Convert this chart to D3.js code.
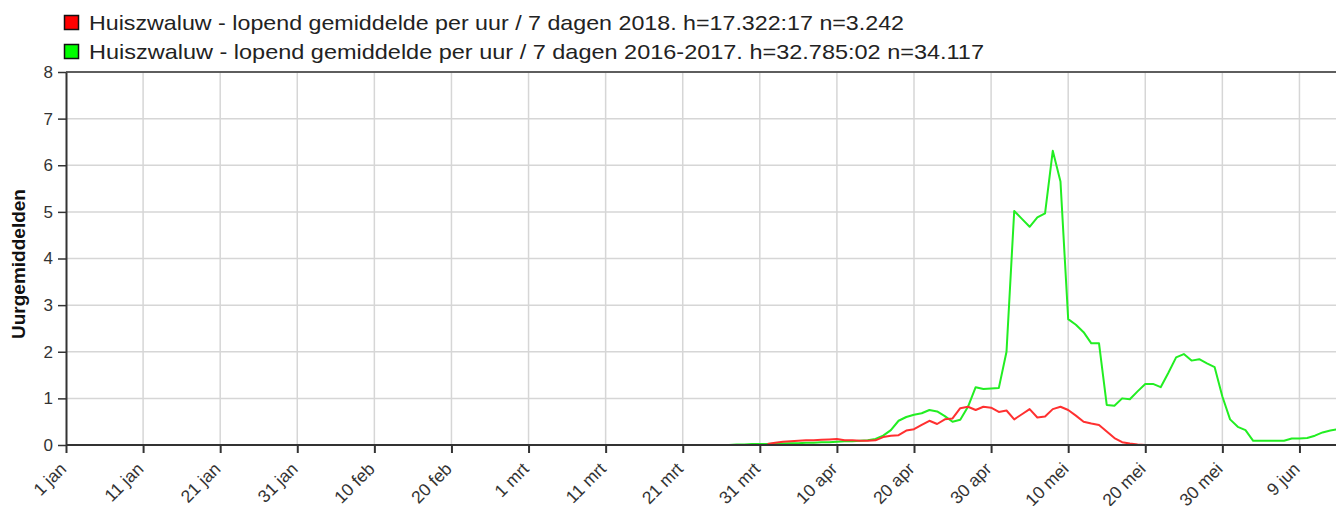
<!DOCTYPE html>
<html>
<head>
<meta charset="utf-8">
<script src="https://cdn.jsdelivr.net/npm/d3@7"></script>
<style>
  body { margin: 0; background: #fff; }
  svg { display: block; font-family: "Liberation Sans", Arial, sans-serif; }
</style>
</head>
<body>
<svg id="chart"></svg>
<script>
const width = 1336
const height = 506

// Data: one value per day, day 0 = 1 jan (leap-year calendar)
const tickDays = [0, 10, 20, 30, 40, 50, 60, 70, 80, 90, 100, 110, 120, 130, 140, 150, 160]
const tickLabels = ["1 jan", "11 jan", "21 jan", "31 jan", "10 feb", "20 feb", "1 mrt", "11 mrt",
    "21 mrt", "31 mrt", "10 apr", "20 apr", "30 apr", "10 mei", "20 mei", "30 mei", "9 jun"]

const series2018Label = "Huiszwaluw - lopend gemiddelde per uur / 7 dagen 2018. h=17.322:17 n=3.242"
const series2018Start = 91
const series2018 = [0.02, 0.05, 0.07, 0.08, 0.09, 0.1, 0.1, 0.11, 0.12, 0.13,
    0.1, 0.1, 0.09, 0.09, 0.1, 0.17, 0.2, 0.21, 0.31, 0.34,
    0.43, 0.52, 0.45, 0.55, 0.57, 0.79, 0.82, 0.75, 0.82, 0.8,
    0.71, 0.74, 0.55, 0.66, 0.77, 0.59, 0.61, 0.77, 0.82, 0.75,
    0.63, 0.5, 0.46, 0.43, 0.29, 0.15, 0.06, 0.03, 0.01, 0]

const series1617Label = "Huiszwaluw - lopend gemiddelde per uur / 7 dagen 2016-2017. h=32.785:02 n=34.117"
const series1617Start = 86
const series1617 = [0, 0.01, 0.01, 0.02, 0.02, 0.02, 0.03, 0.03, 0.04, 0.04,
    0.05, 0.05, 0.06, 0.06, 0.07, 0.08, 0.08, 0.09, 0.1, 0.13,
    0.2, 0.32, 0.52, 0.6, 0.65, 0.68, 0.75, 0.72, 0.62, 0.5,
    0.54, 0.82, 1.24, 1.2, 1.21, 1.22, 2.0, 5.02, 4.85, 4.68,
    4.88, 4.97, 6.31, 5.65, 2.7, 2.58, 2.42, 2.18, 2.18, 0.86,
    0.84, 1.0, 0.98, 1.15, 1.31, 1.31, 1.24, 1.55, 1.88, 1.95,
    1.81, 1.84, 1.75, 1.67, 1.04, 0.55, 0.39, 0.32, 0.09, 0.09,
    0.09, 0.09, 0.09, 0.14, 0.14, 0.15, 0.2, 0.27, 0.31, 0.34]

const yTicks = [0, 1, 2, 3, 4, 5, 6, 7, 8]

// Layout
const plotLeft = 66
const plotTop = 72
const plotBottom = 445
const plotRight = 1338

const svg = d3.select("#chart")
    .attr("width", width)
    .attr("height", height)

const x = d3.scaleLinear().domain([0, 165]).range([plotLeft, plotRight])
const y = d3.scaleLinear().domain([0, 8]).range([plotBottom, plotTop])

// Grid
const grid = svg.append("g")
grid.selectAll(".vg")
    .data(tickDays.slice(1))
    .enter()
    .append("line")
    .attr("x1", d => x(d)).attr("x2", d => x(d))
    .attr("y1", plotTop).attr("y2", plotBottom)
    .attr("stroke", "#d6d6d6")
    .attr("stroke-width", 1.5)
grid.selectAll(".hg")
    .data(yTicks.slice(1))
    .enter()
    .append("line")
    .attr("x1", plotLeft).attr("x2", width)
    .attr("y1", d => y(d)).attr("y2", d => y(d))
    .attr("stroke", "#d6d6d6")
    .attr("stroke-width", 1.5)

// Top frame line
svg.append("line")
    .attr("x1", plotLeft).attr("x2", width)
    .attr("y1", plotTop).attr("y2", plotTop)
    .attr("stroke", "#333")
    .attr("stroke-width", 1.5)

// Lines
const line = start => d3.line()
    .x((d, i) => x(start + i))
    .y(d => y(d))

svg.append("path")
    .datum(series1617)
    .attr("d", line(series1617Start))
    .attr("fill", "none")
    .attr("stroke", "#22ee22")
    .attr("stroke-width", 2)
    .attr("stroke-linejoin", "round")

svg.append("path")
    .datum(series2018)
    .attr("d", line(series2018Start))
    .attr("fill", "none")
    .attr("stroke", "#ff3030")
    .attr("stroke-width", 2)
    .attr("stroke-linejoin", "round")

// Axes
const xAxis = d3.axisBottom(x)
    .tickValues(tickDays)
    .tickFormat((d, i) => tickLabels[i])
    .tickSize(8)
    .tickSizeOuter(0)

const gx = svg.append("g")
    .attr("transform", `translate(0,${plotBottom})`)
    .call(xAxis)
gx.select(".domain").attr("stroke", "#333").attr("stroke-width", 2)
    .attr("d", `M${plotLeft},0H${width}`)
gx.selectAll(".tick line").attr("stroke", "#333").attr("stroke-width", 2)
gx.selectAll(".tick text")
    .attr("font-size", 17.5)
    .attr("fill", "#333")
    .attr("text-anchor", "end")
    .attr("dy", null)
    .attr("y", 0)
    .attr("transform", "translate(1,25) rotate(-45)")

const yAxis = d3.axisLeft(y)
    .tickValues(yTicks)
    .tickSize(8)
    .tickSizeOuter(0)
    .tickPadding(5)

const gy = svg.append("g")
    .attr("transform", `translate(${plotLeft},0)`)
    .call(yAxis)
gy.select(".domain").attr("stroke", "#333").attr("stroke-width", 2)
gy.selectAll(".tick line").attr("stroke", "#333").attr("stroke-width", 1.5)
gy.selectAll(".tick text")
    .attr("font-size", 17)
    .attr("fill", "#333")

svg.append("text")
    .attr("transform", `translate(25,264) rotate(-90)`)
    .attr("text-anchor", "middle")
    .attr("font-size", 19)
    .attr("font-weight", "bold")
    .attr("fill", "#111")
    .text("Uurgemiddelden")

// Legend
const legend = svg.append("g")
const legendItems = [
    { label: series2018Label, color: "#ff0000", len: 815 },
    { label: series1617Label, color: "#00ff00", len: 895 }
]
legend.selectAll("rect")
    .data(legendItems)
    .enter()
    .append("rect")
    .attr("x", 64.5)
    .attr("y", (d, i) => 15.5 + i * 29)
    .attr("width", 14)
    .attr("height", 14)
    .attr("fill", d => d.color)
    .attr("stroke", "#111")
    .attr("stroke-width", 1.5)
legend.selectAll("text")
    .data(legendItems)
    .enter()
    .append("text")
    .attr("x", 89)
    .attr("y", (d, i) => 30 + i * 29)
    .attr("font-size", 21)
    .attr("fill", "#222")
    .attr("textLength", d => d.len)
    .attr("lengthAdjust", "spacingAndGlyphs")
    .text(d => d.label)
</script>
</body>
</html>
